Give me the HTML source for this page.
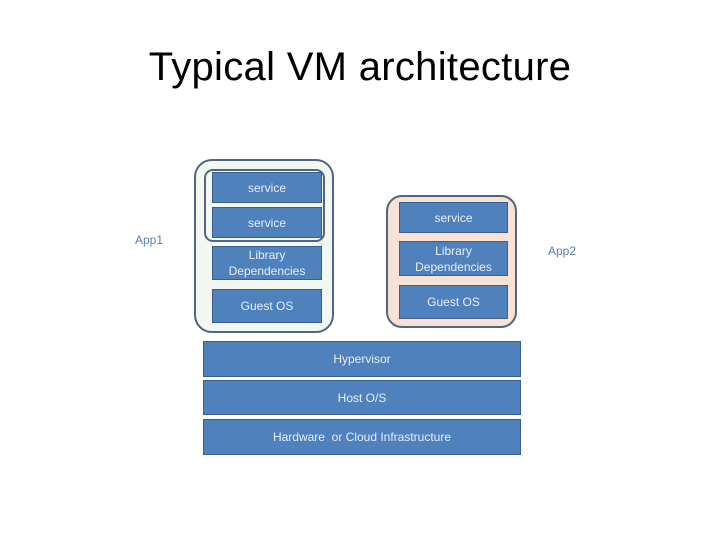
<!DOCTYPE html>
<html><head><style>
body{margin:0;width:720px;height:540px;background:#fff;position:relative;overflow:hidden;font-family:"Liberation Sans",sans-serif}
.a{position:absolute;box-sizing:border-box}
.b{position:absolute;box-sizing:border-box;background:#4f81bd;border:1.5px solid #3a5f8e;color:#e8eef7;font-size:12px;display:flex;align-items:center;justify-content:center;text-align:center;line-height:16px}
.t{position:absolute;font-size:12px;color:#5a7fb0}
</style></head><body>
<div class="a" style="left:0;top:42px;width:720px;text-align:center;font-size:40px;color:#000;line-height:50px;letter-spacing:0.3px">Typical VM architecture</div>
<div class="a" style="left:194px;top:159px;width:140px;height:174px;border:2px solid #50657e;border-radius:18px;background:#f3f7f2"></div>
<div class="a" style="left:204px;top:169px;width:121px;height:73px;border:2px solid #50657e;border-radius:9px"></div>
<div class="b" style="left:212px;top:172px;width:110px;height:31px">service</div>
<div class="b" style="left:212px;top:207px;width:110px;height:31px">service</div>
<div class="b" style="left:212px;top:246px;width:110px;height:34px">Library<br>Dependencies</div>
<div class="b" style="left:212px;top:289px;width:110px;height:34px">Guest OS</div>
<div class="a" style="left:386px;top:195px;width:131px;height:133px;border:2px solid #50657e;border-radius:16px;background:#f9e2d4"></div>
<div class="b" style="left:399px;top:202px;width:109px;height:31px">service</div>
<div class="b" style="left:399px;top:241px;width:109px;height:35px">Library<br>Dependencies</div>
<div class="b" style="left:399px;top:285px;width:109px;height:34px">Guest OS</div>
<div class="b" style="left:203px;top:341px;width:318px;height:36px">Hypervisor</div>
<div class="b" style="left:203px;top:380px;width:318px;height:35px">Host O/S</div>
<div class="b" style="left:203px;top:419px;width:318px;height:36px">Hardware &nbsp;or Cloud Infrastructure</div>
<div class="t" style="left:135px;top:233px">App1</div>
<div class="t" style="left:548px;top:244px">App2</div>
</body></html>
